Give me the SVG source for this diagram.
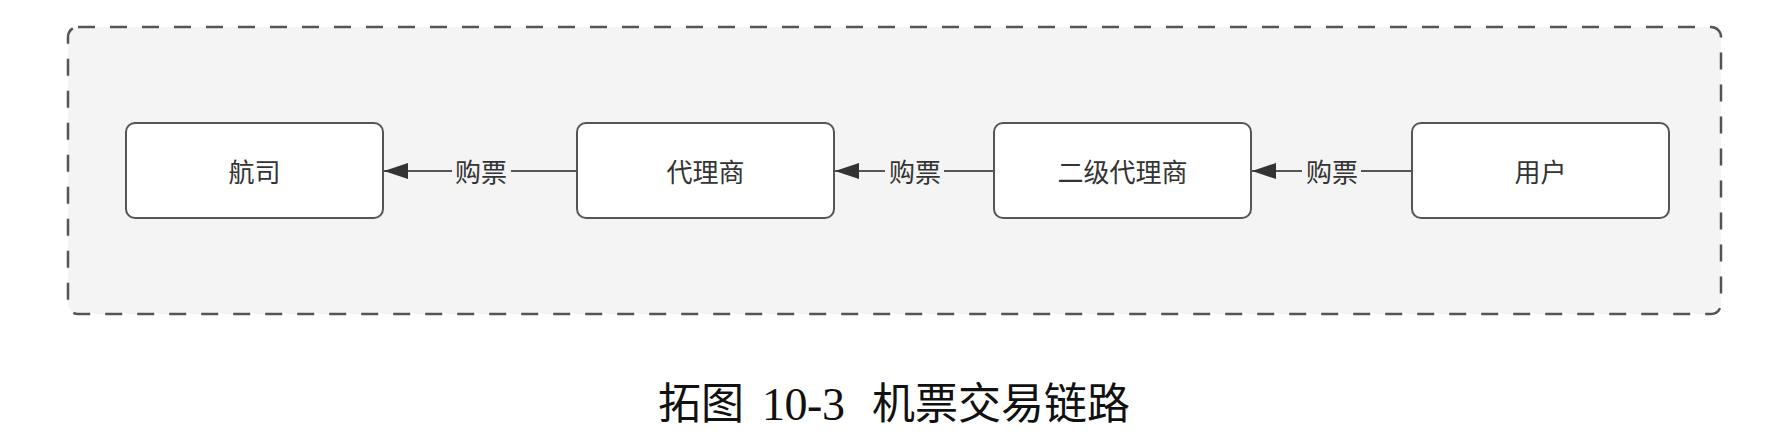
<svg xmlns="http://www.w3.org/2000/svg" width="1778" height="444" viewBox="0 0 1778 444">
  <style>
    .node rect { fill: #ffffff; stroke: #555555; stroke-width: 2; }
    .node text { font-family: "Noto Sans CJK SC", "Noto Sans", sans-serif; font-size: 26px; fill: #333333; text-anchor: middle; }
    .edge line { stroke: #555555; stroke-width: 2; }
    .edge rect { fill: #f4f4f4; }
    .edge text { font-family: "Noto Sans CJK SC", "Noto Sans", sans-serif; font-size: 26px; fill: #333333; text-anchor: middle; }
    .caption { font-family: "Noto Sans CJK SC", sans-serif; font-size: 43px; fill: #111111; }
    .caption-num { font-family: "Liberation Serif", serif; font-size: 46px; fill: #111111; }
  </style>
  <defs>
    <marker id="block" viewBox="0 0 24 16" refX="24" refY="8" markerWidth="24" markerHeight="16" orient="auto" markerUnits="userSpaceOnUse">
      <path d="M0,0 L24,8 L0,16 Z" fill="#333333"/>
    </marker>
  </defs>

  <g id="container">
    <rect x="68" y="27" width="1653" height="287" rx="10" ry="10" fill="#f4f4f4" stroke="#555555" stroke-width="2.5" stroke-dasharray="17 15"/>
  </g>

  <g id="connectors" class="edge">
    <g id="edge-agent-airline">
      <line x1="577" y1="171" x2="384" y2="171" marker-end="url(#block)"/>
      <rect x="452" y="156" width="59" height="30"/>
      <text x="481" y="181.5">购票</text>
    </g>
    <g id="edge-subagent-agent">
      <line x1="994" y1="171" x2="835" y2="171" marker-end="url(#block)"/>
      <rect x="885" y="156" width="59" height="30"/>
      <text x="915" y="181.5">购票</text>
    </g>
    <g id="edge-user-subagent">
      <line x1="1412" y1="171" x2="1252" y2="171" marker-end="url(#block)"/>
      <rect x="1302" y="156" width="59" height="30"/>
      <text x="1332" y="181.5">购票</text>
    </g>
  </g>

  <g id="node-airline" class="node">
    <rect x="126" y="123" width="257" height="95" rx="9" ry="9"/>
    <text x="254.5" y="181.5">航司</text>
  </g>
  <g id="node-agent" class="node">
    <rect x="577" y="123" width="257" height="95" rx="9" ry="9"/>
    <text x="705.5" y="181.5">代理商</text>
  </g>
  <g id="node-subagent" class="node">
    <rect x="994" y="123" width="257" height="95" rx="9" ry="9"/>
    <text x="1122.5" y="181.5">二级代理商</text>
  </g>
  <g id="node-user" class="node">
    <rect x="1412" y="123" width="257" height="95" rx="9" ry="9"/>
    <text x="1540.5" y="181.5">用户</text>
  </g>

  <g id="caption">
    <text class="caption" x="658" y="419">拓图</text>
    <text class="caption-num" x="762" y="420" textLength="83" lengthAdjust="spacing">10-3</text>
    <text class="caption" x="872" y="419">机票交易链路</text>
  </g>
</svg>
